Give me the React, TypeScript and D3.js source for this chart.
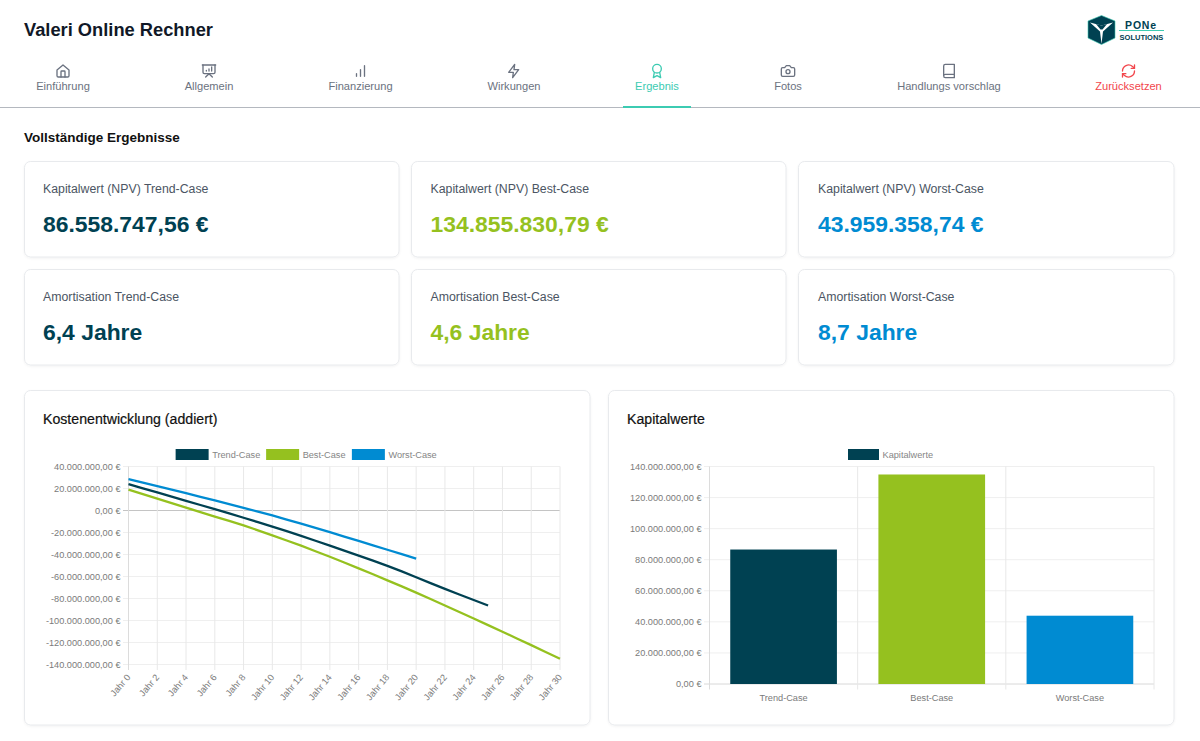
import React from "react";
import * as d3 from "d3";

const TEAL = "#3ccbb2";
const DARK = "#004152";
const GREEN = "#95c11f";
const BLUE = "#008bd2";
const GREY = "#6b7280";
const RED = "#f2464c";
const FONT = "'Liberation Sans', Arial, sans-serif";

const tabs = ["Einführung", "Allgemein", "Finanzierung", "Wirkungen", "Ergebnis", "Fotos", "Handlungs vorschlag", "Zurücksetzen"];
const tabCenters = [63, 209, 360.5, 514, 657, 788, 949, 1128.5];

// lucide style icons, 24x24 box
const tabIcons = [
  ["M3 10.5 12 3l9 7.5V19a2 2 0 0 1-2 2H5a2 2 0 0 1-2-2z", "M9 21v-8a1 1 0 0 1 1-1h4a1 1 0 0 1 1 1v8"],
  ["M2 3h20", "M3 3v11a2 2 0 0 0 2 2h14a2 2 0 0 0 2-2V3", "M7 21l5-5 5 5", "M8 12v-1", "M12 12V9", "M16 12V6"],
  ["M6 20v-4", "M12 20v-10", "M18 20V4"],
  ["M13 2 4 14h7l-1 8 9-12h-7z"],
  ["M12 2a6.5 6.5 0 1 0 0 13 6.5 6.5 0 0 0 0-13z", "M8 14l-1.5 8L12 19l5.5 3L16 14"],
  ["M14.5 4h-5L7 7H4a2 2 0 0 0-2 2v9a2 2 0 0 0 2 2h16a2 2 0 0 0 2-2V9a2 2 0 0 0-2-2h-3z", "M12 10a3 3 0 1 0 0 6 3 3 0 0 0 0-6z"],
  ["M4 19.5v-15A2.5 2.5 0 0 1 6.5 2H20v20H6.5a2.5 2.5 0 0 1 0-5H20"],
  ["M3 12a9 9 0 0 1 15-6.7L21 8", "M21 3v5h-5", "M21 12a9 9 0 0 1-15 6.7L3 16", "M3 21v-5h5"],
];

const caseNames = ["Trend-Case", "Best-Case", "Worst-Case"];
const caseColors = [DARK, GREEN, BLUE];
const npvValues = [86558747.56, 134855830.79, 43959358.74];
const paybackYears = [6.4, 4.6, 8.7];

// cumulative cost per year in million euro
const trendCase = [24, 20.2, 16.4, 12.6, 8.8, 5, 1.2, -2.7, -6.6, -10.6, -14.6, -18.8, -23, -27.5, -32, -36.5, -41, -45.6, -50.3, -55.4, -60.7, -66, -71.3, -76.4, -81.4, -86.4];
const bestCase = [19, 14.9, 10.8, 6.7, 2.6, -1.4, -5.5, -9.5, -13.6, -18, -22.6, -27.3, -32, -37, -42, -47.3, -52.6, -58, -63.5, -69, -74.7, -80.5, -86.4, -92.3, -98.2, -104.2, -110.2, -116.3, -122.4, -128.6, -134.8];
const worstCase = [28.5, 25.3, 22.1, 18.9, 15.7, 12.4, 9.1, 5.8, 2.4, -1, -4.5, -8.2, -12, -15.8, -19.7, -23.7, -27.7, -31.7, -35.7, -39.7, -43.7];
const cumulativeSeries = [trendCase, bestCase, worstCase];

const de = d3.formatLocale({ decimal: ",", thousands: ".", grouping: [3], currency: ["", " €"], minus: "-" });
const euro = (v: number) => de.format(",.2f")(v) + " €";

function Card({ x, y, w, h }: { x: number; y: number; w: number; h: number }) {
  return (
    <rect x={x + 0.5} y={y + 0.5} width={w} height={h} rx={6} fill="#fff" stroke="#e8eaed" filter="url(#cardShadow)" />
  );
}

function Legend({ names, colors, y, cx, box }: { names: string[]; colors: string[]; y: number; cx: number; box: number }) {
  // rough text width at 9.2px, good enough to centre the row
  const widths = names.map((n) => n.length * 4.75);
  const total = d3.sum(widths) + names.length * (box + 4) + (names.length - 1) * 6;
  let x = cx - total / 2;
  return (
    <g>
      {names.map((n, i) => {
        const x0 = x;
        x += widths[i] + box + 4 + 6;
        return (
          <g key={n}>
            <rect x={x0} y={y} width={box} height={11} fill={colors[i]} />
            <text x={x0 + box + 3.5} y={y + 8.7} fontSize={9.2} fill="#858585">{n}</text>
          </g>
        );
      })}
    </g>
  );
}

function LineChart() {
  const left = 128.5, right = 560, top = 466.5, bottom = 664.5;
  const years = d3.range(0, 31);
  const x = d3.scaleLinear().domain([0, 30]).range([left, right]);
  const y = d3.scaleLinear().domain([-140, 40]).range([bottom, top]);
  const line = d3.line<number>().x((_, i) => x(i)).y((d) => y(d));
  const yTicks = y.ticks(9);
  const xTicks = years.filter((d) => d % 2 === 0);
  return (
    <g>
      <Legend names={caseNames} colors={caseColors} y={449} cx={306} box={33} />
      {yTicks.map((t) => (
        <g key={t}>
          <line x1={left - 5.5} x2={right} y1={y(t)} y2={y(t)} stroke={t === 0 ? "#c4c4c4" : "#efefef"} strokeWidth={t === 0 ? 1.2 : 1} />
          <text x={left - 8} y={y(t) + 3.2} textAnchor="end" fontSize={9.2} fill="#7a7a7a">{euro(t * 1e6)}</text>
        </g>
      ))}
      {xTicks.map((t) => (
        <g key={t}>
          <line x1={x(t)} x2={x(t)} y1={top} y2={bottom + 5.5} stroke={t === 0 ? "#dcdcdc" : "#e8e8e8"} />
          <text transform={`translate(${x(t) + 2.5},${bottom + 13}) rotate(-50)`} textAnchor="end" fontSize={9.2} fill="#7a7a7a">{`Jahr ${t}`}</text>
        </g>
      ))}
      {cumulativeSeries.map((s, i) => (
        <path key={caseNames[i]} d={line(s) ?? ""} fill="none" stroke={caseColors[i]} strokeWidth={2.3} strokeLinejoin="round" />
      ))}
    </g>
  );
}

function BarChart() {
  const left = 709.5, right = 1154, top = 466.5, bottom = 684;
  const x = d3.scaleBand<string>().domain(caseNames).range([left, right]).paddingInner(0.28).paddingOuter(0.14);
  const y = d3.scaleLinear().domain([0, 140000000]).range([bottom, top]);
  const step = x.step();
  return (
    <g>
      <Legend names={["Kapitalwerte"]} colors={[DARK]} y={449} cx={894} box={31} />
      {y.ticks(7).map((t) => (
        <g key={t}>
          <line x1={left - 5.5} x2={right} y1={y(t)} y2={y(t)} stroke={t === 0 ? "#d8d8d8" : "#efefef"} />
          <text x={left - 8} y={y(t) + 3.2} textAnchor="end" fontSize={9.2} fill="#7a7a7a">{euro(t)}</text>
        </g>
      ))}
      {d3.range(0, caseNames.length + 1).map((i) => (
        <line key={i} x1={left + i * step} x2={left + i * step} y1={top} y2={bottom + 5.5} stroke={i === 0 ? "#dcdcdc" : "#e8e8e8"} />
      ))}
      {caseNames.map((n, i) => (
        <g key={n}>
          <rect x={x(n)} y={y(npvValues[i])} width={x.bandwidth()} height={bottom - y(npvValues[i])} fill={caseColors[i]} />
          <text x={(x(n) ?? 0) + x.bandwidth() / 2} y={bottom + 17} textAnchor="middle" fontSize={9.2} fill="#7a7a7a">{n}</text>
        </g>
      ))}
    </g>
  );
}

function Logo() {
  return (
    <g>
      <path d="M1101.5 15.5 1115 21V38L1101.5 44.5 1088 38V21Z" fill={DARK} stroke={TEAL} strokeWidth={0.6} />
      <path d="M1090 22.5 1101.5 25.5 1113 22.5 1103 31.5 1101.5 44 1100 31.5Z" fill="#fff" />
      <path d="M1096 24 1101.5 25.5 1107 24 1102.5 29.5H1100.5Z" fill={DARK} />
      <text x={1141} y={28.5} textAnchor="middle" fontSize={10.5} fontWeight={700} fill={DARK} letterSpacing={0.8}>PONe</text>
      <line x1={1119} x2={1164} y1={30.5} y2={30.5} stroke={TEAL} strokeWidth={1.2} />
      <text x={1141.5} y={39.5} textAnchor="middle" fontSize={7.5} fontWeight={700} fill={DARK}>SOLUTIONS</text>
    </g>
  );
}

export default function App() {
  const cardX = [24, 411, 798];
  const cardTextX = [43, 430.5, 818];
  const rows = [
    { y: 161, label: "Kapitalwert (NPV)", values: npvValues.map(euro) },
    { y: 269, label: "Amortisation", values: paybackYears.map((v) => de.format(".1f")(v) + " Jahre") },
  ];
  return (
    <svg width={1200} height={741} viewBox="0 0 1200 741" fontFamily={FONT} style={{ position: "absolute", left: 0, top: 0, background: "#fff" }}>
      <defs>
        <filter id="cardShadow" x="-5%" y="-5%" width="110%" height="110%">
          <feDropShadow dx={0} dy={1} stdDeviation={1} floodColor="#000" floodOpacity={0.05} />
        </filter>
      </defs>

      <text x={24} y={36} fontSize={18.3} fontWeight={700} fill="#111827">Valeri Online Rechner</text>
      <Logo />

      {tabs.map((t, i) => {
        const color = i === 4 ? TEAL : i === 7 ? RED : GREY;
        return (
          <g key={t}>
            <g transform={`translate(${tabCenters[i] - 8},${63}) scale(${16 / 24})`} fill="none" stroke={color} strokeWidth={2} strokeLinecap="round" strokeLinejoin="round">
              {tabIcons[i].map((d) => <path key={d} d={d} />)}
            </g>
            <text x={tabCenters[i]} y={90} textAnchor="middle" fontSize={11.1} fill={color}>{t}</text>
          </g>
        );
      })}
      <line x1={0} x2={1200} y1={107.5} y2={107.5} stroke="#b4b8bf" />
      <line x1={623} x2={691} y1={107} y2={107} stroke={TEAL} strokeWidth={2} />

      <text x={24} y={142} fontSize={13.5} fontWeight={700} fill="#111">Vollständige Ergebnisse</text>

      {rows.map((r) =>
        caseNames.map((c, i) => (
          <g key={r.label + c}>
            <Card x={cardX[i]} y={r.y} w={i === 2 ? 375.5 : 374.5} h={95.5} />
            <text x={cardTextX[i]} y={r.y + 32} fontSize={12.3} fill="#4b5563">{`${r.label} ${c}`}</text>
            <text x={cardTextX[i]} y={r.y + 71} fontSize={22.9} fontWeight={700} fill={caseColors[i]}>{r.values[i]}</text>
          </g>
        ))
      )}

      <Card x={24} y={390} w={565.5} h={334.5} />
      <text x={43} y={424} fontSize={14.15} fill="#111" stroke="#111" strokeWidth={0.2}>Kostenentwicklung (addiert)</text>
      <LineChart />

      <Card x={608} y={390} w={565.5} h={334.5} />
      <text x={627} y={424} fontSize={14.15} fill="#111" stroke="#111" strokeWidth={0.2}>Kapitalwerte</text>
      <BarChart />
    </svg>
  );
}
